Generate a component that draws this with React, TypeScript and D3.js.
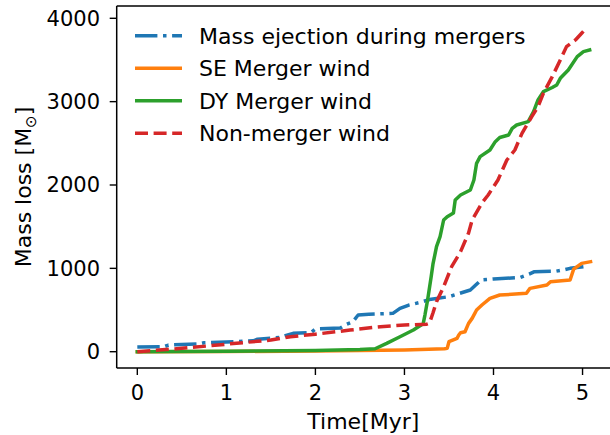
import React from "react";
import * as d3 from "d3";

// Cumulative mass loss over time (Myr, Msun)
const ejectionTime = [0, 0.3, 0.35, 0.7, 0.75, 1.0, 1.3, 1.35, 1.6, 1.7, 1.75, 1.95, 2.0, 2.28, 2.35, 2.42, 2.48, 2.6, 2.87, 2.95, 3.05, 3.17, 3.3, 3.5, 3.74, 3.8, 3.86, 4.0, 4.3, 4.4, 4.46, 4.7, 4.8, 4.86, 5.01];
const ejectionMass = [55, 60, 80, 95, 108, 116, 130, 150, 170, 205, 220, 228, 272, 285, 330, 360, 440, 450, 460, 520, 560, 590, 630, 660, 740, 800, 860, 872, 890, 930, 960, 965, 985, 1000, 1020];

const seTime = [0, 1, 2, 3, 3.45, 3.48, 3.5, 3.59, 3.61, 3.63, 3.68, 3.72, 3.76, 3.79, 3.81, 3.87, 3.96, 4.07, 4.37, 4.41, 4.6, 4.64, 4.86, 4.9, 4.99, 5.09];
const seMass = [0, 2, 8, 20, 35, 40, 120, 160, 200, 228, 240, 340, 400, 460, 500, 560, 640, 680, 700, 760, 800, 840, 860, 990, 1060, 1080];

const dyTime = [0, 1, 2, 2.5, 2.67, 2.8, 2.95, 3.1, 3.21, 3.23, 3.26, 3.3, 3.32, 3.36, 3.4, 3.44, 3.48, 3.55, 3.57, 3.63, 3.74, 3.78, 3.81, 3.85, 3.96, 4.02, 4.07, 4.17, 4.21, 4.26, 4.39, 4.45, 4.5, 4.56, 4.66, 4.71, 4.75, 4.84, 4.94, 5.01, 5.08];
const dyMass = [0, 5, 15, 25, 35, 100, 180, 260, 335, 440, 620, 900, 1050, 1260, 1380, 1580, 1620, 1664, 1820, 1880, 1940, 2060, 2260, 2340, 2420, 2520, 2570, 2600, 2680, 2720, 2760, 2880, 3020, 3120, 3170, 3200, 3280, 3380, 3540, 3600, 3620];

const windTime = [0, 0.5, 1.0, 1.5, 1.72, 2.0, 2.39, 2.73, 3.0, 3.25, 3.28, 3.32, 3.36, 3.44, 3.53, 3.63, 3.72, 3.76, 3.87, 3.94, 4.05, 4.15, 4.24, 4.32, 4.43, 4.5, 4.56, 4.66, 4.75, 4.82, 4.92, 4.99, 5.05];
const windMass = [0, 40, 90, 140, 180, 210, 260, 300, 320, 330, 340, 464, 600, 780, 1020, 1200, 1424, 1580, 1784, 1880, 2060, 2300, 2420, 2620, 2820, 2940, 3100, 3300, 3500, 3660, 3740, 3820, 3890];

const xTicks = [0, 1, 2, 3, 4, 5];
const yTicks = [0, 1000, 2000, 3000, 4000];

const seriesLabels = ["Mass ejection during mergers", "SE Merger wind", "DY Merger wind", "Non-merger wind"];
const seriesColors = ["#1f77b4", "#ff7f0e", "#2ca02c", "#d62728"];
const seriesDash = ["22.4 5.6 3.5 5.6", "", "", "13 5.6"];

const W = 610;
const H = 435;
const left = 116.7;
const top = 6;
const bottom = 368;
const right = 612;
const font = "DejaVu Sans, sans-serif";

export default function App() {
  const x = d3.scaleLinear().domain([-0.2315, 5.3308]).range([left, right]);
  const y = d3.scaleLinear().domain([-195.5, 4147.5]).range([bottom, top]);

  const series = [
    { t: ejectionTime, m: ejectionMass },
    { t: seTime, m: seMass },
    { t: dyTime, m: dyMass },
    { t: windTime, m: windMass },
  ];

  const line = d3
    .line<[number, number]>()
    .x((d) => x(d[0]))
    .y((d) => y(d[1]));

  const drawOrder = [0, 1, 2, 3];

  return (
    <svg
      width={W}
      height={H}
      style={{ position: "absolute", left: 0, top: 0, background: "#fff" }}
      fontFamily={font}
    >
      <defs>
        <clipPath id="plotArea">
          <rect x={left} y={top} width={right - left} height={bottom - top} />
        </clipPath>
      </defs>
      <rect width={W} height={H} fill="#fff" />

      <g clipPath="url(#plotArea)">
        {drawOrder.map((i) => {
          const pts = series[i].t.map((t, k) => [t, series[i].m[k]] as [number, number]);
          return (
            <path
              key={i}
              d={line(pts) || ""}
              fill="none"
              stroke={seriesColors[i]}
              strokeWidth={3.5}
              strokeDasharray={seriesDash[i] || undefined}
              strokeLinejoin="round"
              strokeLinecap={seriesDash[i] ? "butt" : "square"}
            />
          );
        })}
      </g>

      {/* spines */}
      <line x1={left} x2={left} y1={top} y2={bottom} stroke="#000" strokeWidth={1.5} />
      <line x1={left} x2={right} y1={bottom} y2={bottom} stroke="#000" strokeWidth={1.5} />
      <line x1={left} x2={right} y1={top} y2={top} stroke="#000" strokeWidth={1.5} />
      <line x1={right} x2={right} y1={top} y2={bottom} stroke="#000" strokeWidth={1.5} />

      {/* x axis */}
      {xTicks.map((t) => (
        <g key={t}>
          <line x1={x(t)} x2={x(t)} y1={bottom} y2={bottom + 7} stroke="#000" strokeWidth={1.4} />
          <text x={x(t)} y={400} textAnchor="middle" fontSize={21} fill="#000">
            {t}
          </text>
        </g>
      ))}
      <text x={(left + right) / 2 - 1} y={429} textAnchor="middle" fontSize={22} fill="#000">
        Time[Myr]
      </text>

      {/* y axis */}
      {yTicks.map((v) => (
        <g key={v}>
          <line x1={left - 7} x2={left} y1={y(v)} y2={y(v)} stroke="#000" strokeWidth={1.4} />
          <text x={100} y={y(v) + 7.5} textAnchor="end" fontSize={21} fill="#000">
            {v}
          </text>
        </g>
      ))}
      <text
        transform={`translate(31, ${(top + bottom) / 2}) rotate(-90)`}
        textAnchor="middle"
        fontSize={22}
        fill="#000"
      >
        Mass loss [M
        <tspan fontSize={15} dy={5}>⊙</tspan>
        <tspan dy={-5}>]</tspan>
      </text>

      {/* legend */}
      {seriesLabels.map((label, i) => {
        const ly = 35.7 + i * 32.5;
        return (
          <g key={label}>
            <line
              x1={135}
              x2={182}
              y1={ly}
              y2={ly}
              stroke={seriesColors[i]}
              strokeWidth={3.5}
              strokeDasharray={seriesDash[i] || undefined}
            />
            <text x={199} y={ly + 8} fontSize={22} fill="#000">
              {label}
            </text>
          </g>
        );
      })}
    </svg>
  );
}
